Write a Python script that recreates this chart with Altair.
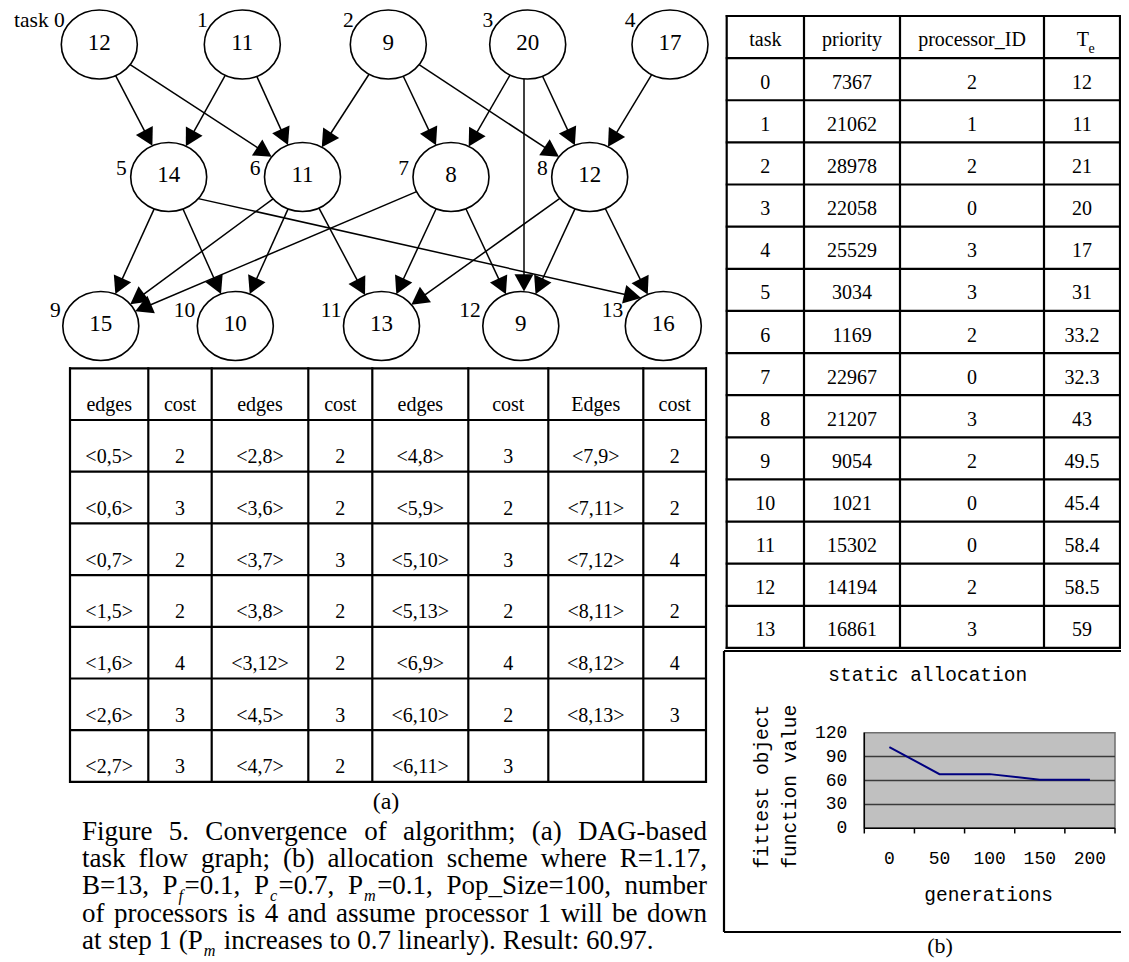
import math
import re
import altair as alt
import pandas as pd

# ============================ DATA ============================
# (a) DAG: task weights, levels and precedence edges
TASK_IDS = list(range(14))
TASK_WEIGHTS = [12, 11, 9, 20, 17, 14, 11, 8, 12, 15, 10, 13, 9, 16]
TASK_LEVEL = [0, 0, 0, 0, 0, 1, 1, 1, 1, 2, 2, 2, 2, 2]
TASK_NAMES = ["task 0"] + [str(i) for i in range(1, 14)]
DAG_SRC = [0, 0, 1, 1, 2, 2, 2, 3, 3, 3, 4, 5, 5, 5, 6, 6, 6, 7, 7, 7, 8, 8, 8]
DAG_DST = [5, 6, 5, 6, 6, 7, 8, 7, 8, 12, 8, 9, 10, 13, 9, 10, 11, 9, 11, 12, 11, 12, 13]

# (a) edge / cost table
EDGE_HEADERS = ["edges", "cost", "edges", "cost", "edges", "cost", "Edges", "cost"]
EDGES_A = ["<0,5>", "<0,6>", "<0,7>", "<1,5>", "<1,6>", "<2,6>", "<2,7>"]
COSTS_A = [2, 3, 2, 2, 4, 3, 3]
EDGES_B = ["<2,8>", "<3,6>", "<3,7>", "<3,8>", "<3,12>", "<4,5>", "<4,7>"]
COSTS_B = [2, 2, 3, 2, 2, 3, 2]
EDGES_C = ["<4,8>", "<5,9>", "<5,10>", "<5,13>", "<6,9>", "<6,10>", "<6,11>"]
COSTS_C = [3, 2, 3, 2, 4, 2, 3]
EDGES_D = ["<7,9>", "<7,11>", "<7,12>", "<8,11>", "<8,12>", "<8,13>"]
COSTS_D = [2, 2, 4, 2, 4, 3]

# (b) allocation table
ALLOC_HEADERS = ["task", "priority", "processor_ID", "T"]
ALLOC_TE_SUB = "e"
ALLOC_TASK = list(range(14))
ALLOC_PRIORITY = [7367, 21062, 28978, 22058, 25529, 3034, 1169, 22967, 21207, 9054, 1021, 15302, 14194, 16861]
ALLOC_PROC = [2, 1, 2, 0, 3, 3, 2, 0, 3, 2, 0, 0, 2, 3]
ALLOC_TE = ["12", "11", "21", "20", "17", "31", "33.2", "32.3", "43", "49.5", "45.4", "58.4", "58.5", "59"]

# (b) convergence chart
GENERATIONS = [0, 50, 100, 150, 200]
FITTEST = [102, 68, 68, 61, 61]
Y_TICKS = [0, 30, 60, 90, 120]
GRID_VALUES = [30, 60, 90]
X_CAT_BOUNDS = [-25, 25, 75, 125, 175, 225]
CHART_TITLE = "static allocation"
X_TITLE = "generations"
Y_TITLE = ["fittest object", "function value"]

PANEL_A = "(a)"
PANEL_B = "(b)"
CAPTION_LINES = [
    "Figure 5. Convergence of algorithm; (a) DAG-based",
    "task flow graph; (b) allocation scheme where R=1.17,",
    "B=13, P_{f}=0.1, P_{c}=0.7, P_{m}=0.1, Pop_Size=100, number",
    "of processors is 4 and assume processor 1 will be down",
    "at step 1 (P_{m} increases to 0.7 linearly). Result: 60.97.",
]

# ============================ LAYOUT ============================
OX, OY = 8, 8            # page margin: layout below is in page pixels
W, H = 1113, 954
SERIF = "Liberation Serif, Times New Roman, serif"
MONO = "Liberation Mono, Courier New, monospace"

RX, RY = 38.0, 34.5
LEVEL_Y = [44.5, 177.0, 326.0]
LEVEL_X = [[99.3, 242.3, 388.3, 527.7, 670.0],
           [168.7, 302.5, 451.0, 589.7],
           [100.8, 235.3, 381.5, 520.8, 663.3]]
LABEL_OFF = [(3.5, -17.5), (-4.0, -2.0), (-2.0, -9.5)]   # (dx from left edge, dy baseline)
# spline-like port shifts (tail aim, head aim) for edges Graphviz routed off-centre
EDGE_AIM = {(3, 12): ((-3.7, 0.0), (3.2, 0.0)), (5, 13): ((0.0, 15.0), (0.0, -23.0))}

ECOLS = [70, 148.3, 211.7, 308.3, 372.3, 468.3, 548.3, 643.3, 706]
EROW0, EROWH, EROWS = 368.3, 51.7, 8
ACOLS = [726.7, 804, 900, 1044, 1120]
AROW0, AROWH, AROWS = 16.0, 42.13, 15

BOX = (724, 651, 1140, 932)
PLOT = (864.3, 732.7, 1115.0, 828.3)   # left, top, right, bottom

CAP_LEFT, CAP_RIGHT = 82.0, 707.0
CAP_FS = 27.0
CAP_SUB = 0.6 * CAP_FS
CAP_DROP = 0.25 * CAP_FS
CAP_SUB_PRE, CAP_SUB_GAP = 1.0, 1.5
CAP_BASE0, CAP_LINEH = 839.5, 27.4

TIMES_R = {' ': 250, '(': 333, ')': 333, ',': 250, '-': 333, '.': 250, ':': 278, ';': 278,
           '=': 564, '_': 500, '<': 564, '>': 564,
           'A': 722, 'B': 667, 'C': 667, 'D': 722, 'F': 556, 'G': 722, 'P': 556, 'R': 667,
           'S': 556, 'T': 611,
           'a': 444, 'b': 500, 'c': 444, 'd': 500, 'e': 444, 'f': 333, 'g': 500, 'h': 500,
           'i': 278, 'j': 278, 'k': 500, 'l': 278, 'm': 778, 'n': 500, 'o': 500, 'p': 500,
           'q': 500, 'r': 333, 's': 389, 't': 278, 'u': 500, 'v': 500, 'w': 722, 'x': 500,
           'y': 500, 'z': 444}
TIMES_I = {'f': 278, 'c': 444, 'm': 722}


def pxs():
    return alt.Scale(domain=[OX, OX + W], range=[0, W], nice=False, zero=False)


def pys():
    return alt.Scale(domain=[OY, OY + H], range=[0, H], nice=False, zero=False)


SXS = dict(domain=[X_CAT_BOUNDS[0], X_CAT_BOUNDS[-1]], range=[PLOT[0] - OX, PLOT[2] - OX])
SYS = dict(domain=[0, 120], range=[PLOT[3] - OY, PLOT[1] - OY])


def sxs():
    return alt.Scale(nice=False, zero=False, **SXS)


def sys_():
    return alt.Scale(nice=False, zero=False, **SYS)


def enc(small=False, with2=False):
    xs, ys = (sxs(), sys_()) if small else (pxs(), pys())
    e = dict(x=alt.X("x:Q", scale=xs, axis=None), y=alt.Y("y:Q", scale=ys, axis=None))
    if with2:
        e["x2"] = alt.X2(field="x2")
        e["y2"] = alt.Y2(field="y2")
    return e


def text_layer(rows, size, font=SERIF, align="center", baseline="alphabetic",
               small=False, **kw):
    mk = dict(font=font, fontSize=size, align=align, baseline=baseline, color="black")
    mk.update(kw)
    return alt.Chart(pd.DataFrame(rows)).mark_text(**mk).encode(text="text:N", **enc(small))


layers = []

# ---------------- DAG ----------------
node_x, node_y = {}, {}
for lvl, xs in enumerate(LEVEL_X):
    ids = [t for t in TASK_IDS if TASK_LEVEL[t] == lvl]
    for t, xv in zip(ids, xs):
        node_x[t], node_y[t] = xv, LEVEL_Y[lvl]


def ellipse_roots(px, py, ux, uy, cx, cy):
    dx, dy = px - cx, py - cy
    A = (ux / RX) ** 2 + (uy / RY) ** 2
    B = 2 * (dx * ux / RX ** 2 + dy * uy / RY ** 2)
    C = (dx / RX) ** 2 + (dy / RY) ** 2 - 1
    disc = math.sqrt(max(B * B - 4 * A * C, 0.0))
    return (-B - disc) / (2 * A), (-B + disc) / (2 * A)


edge_rows, arrow_rows = [], []
for s, d in zip(DAG_SRC, DAG_DST):
    (tdx, tdy), (hdx, hdy) = EDGE_AIM.get((s, d), ((0.0, 0.0), (0.0, 0.0)))
    x1, y1 = node_x[s] + tdx, node_y[s] + tdy
    x2, y2 = node_x[d] + hdx, node_y[d] + hdy
    L = math.hypot(x2 - x1, y2 - y1)
    ux, uy = (x2 - x1) / L, (y2 - y1) / L
    s_out = ellipse_roots(x1, y1, ux, uy, node_x[s], node_y[s])[1]
    s_in = ellipse_roots(x1, y1, ux, uy, node_x[d], node_y[d])[0]
    sx, sy = x1 + ux * s_out, y1 + uy * s_out
    tx, ty = x1 + ux * s_in, y1 + uy * s_in
    edge_rows.append(dict(x=sx, y=sy, x2=tx - ux * 6, y2=ty - uy * 6))
    ang = math.degrees(math.atan2(ux, -uy)) % 360
    arrow_rows.append(dict(x=tx, y=ty, ang=ang))

layers.append(alt.Chart(pd.DataFrame(edge_rows)).mark_rule(color="black", strokeWidth=1.5)
              .encode(**enc(with2=True)))

K = 0.5523
a, b = RX / 10, RY / 10
ELLIPSE = (f"M{a},0C{a},{b*K},{a*K},{b},0,{b}C{-a*K},{b},{-a},{b*K},{-a},0"
           f"C{-a},{-b*K},{-a*K},{-b},0,{-b}C{a*K},{-b},{a},{-b*K},{a},0Z")
node_rows = [dict(x=node_x[t], y=node_y[t]) for t in TASK_IDS]
layers.append(alt.Chart(pd.DataFrame(node_rows)).mark_point(
    shape=ELLIPSE, size=400, filled=True, fill="white", stroke="black",
    strokeWidth=1.6, opacity=1).encode(**enc()))

layers.append(alt.Chart(pd.DataFrame(arrow_rows)).mark_point(
    shape="M0,0L1.1,2L-1.1,2Z", size=300, filled=True, color="black", opacity=1,
    strokeWidth=0).encode(angle=alt.Angle("ang:Q", scale=None), **enc()))

layers.append(text_layer([dict(x=node_x[t], y=node_y[t] + 5.3, text=str(TASK_WEIGHTS[t]))
                          for t in TASK_IDS], 23))
lab_rows = []
for t in TASK_IDS:
    dx, dy = LABEL_OFF[TASK_LEVEL[t]]
    lab_rows.append(dict(x=node_x[t] - RX + dx, y=node_y[t] + dy, text=TASK_NAMES[t]))
layers.append(text_layer(lab_rows, 21.5, align="right"))

# ---------------- tables: lines ----------------
rule_rows = []
eys = [EROW0 + EROWH * k for k in range(EROWS + 1)]
for yv in eys:
    rule_rows.append(dict(x=ECOLS[0] - 1, x2=ECOLS[-1] + 1, y=yv, y2=yv))
for xv in ECOLS:
    rule_rows.append(dict(x=xv, x2=xv, y=eys[0] - 1, y2=eys[-1] + 1))
ays = [AROW0 + AROWH * k for k in range(AROWS + 1)]
for yv in ays:
    rule_rows.append(dict(x=ACOLS[0] - 1, x2=ACOLS[-1] + 1, y=yv, y2=yv))
for xv in ACOLS:
    rule_rows.append(dict(x=xv, x2=xv, y=ays[0] - 1, y2=ays[-1] + 1))
bl, bt, br, bb = BOX
rule_rows += [dict(x=bl, x2=br, y=bt, y2=bt), dict(x=bl, x2=br, y=bb, y2=bb),
              dict(x=bl, x2=bl, y=bt, y2=bb)]
layers.append(alt.Chart(pd.DataFrame(rule_rows)).mark_rule(color="black", strokeWidth=2.2)
              .encode(**enc(with2=True)))

# ---------------- edge table text ----------------
ecent = [(ECOLS[j] + ECOLS[j + 1]) / 2 for j in range(8)]
etext = [dict(x=ecent[j], y=eys[1] - 9, text=EDGE_HEADERS[j]) for j in range(8)]
for g, (ed, co) in enumerate([(EDGES_A, COSTS_A), (EDGES_B, COSTS_B),
                              (EDGES_C, COSTS_C), (EDGES_D, COSTS_D)]):
    for i, (e_, c_) in enumerate(zip(ed, co)):
        yb = eys[i + 2] - 8.5
        etext.append(dict(x=ecent[2 * g], y=yb, text=e_))
        etext.append(dict(x=ecent[2 * g + 1], y=yb, text=str(c_)))
layers.append(text_layer(etext, 20))

# ---------------- allocation table text ----------------
acent = [(ACOLS[j] + ACOLS[j + 1]) / 2 for j in range(4)]
atext = [dict(x=acent[j], y=ays[1] - 12, text=ALLOC_HEADERS[j]) for j in range(3)]
for i in range(len(ALLOC_TASK)):
    yb = ays[i + 2] - 11.5
    atext += [dict(x=acent[0], y=yb, text=str(ALLOC_TASK[i])),
              dict(x=acent[1], y=yb, text=str(ALLOC_PRIORITY[i])),
              dict(x=acent[2], y=yb, text=str(ALLOC_PROC[i])),
              dict(x=acent[3], y=yb, text=ALLOC_TE[i])]
layers.append(text_layer(atext, 20))
layers.append(text_layer([dict(x=acent[3] + 7, y=ays[1] - 12, text=ALLOC_HEADERS[3])], 20,
                         align="right"))
layers.append(text_layer([dict(x=acent[3] + 6.5, y=ays[1] - 5, text=ALLOC_TE_SUB)], 14,
                         align="left"))

# ---------------- panel labels & caption ----------------
layers.append(text_layer([dict(x=386, y=809, text=PANEL_A)], 24))
layers.append(text_layer([dict(x=940, y=953, text=PANEL_B)], 22))


def parse_word(w):
    segs, pos = [], 0
    for m in re.finditer(r"_\{(.*?)\}", w):
        if m.start() > pos:
            segs.append((w[pos:m.start()], False))
        segs.append((m.group(1), True))
        pos = m.end()
    if pos < len(w):
        segs.append((w[pos:], False))
    return segs


def seg_w(txt, sub):
    if sub:
        return (CAP_SUB_PRE + sum(TIMES_I.get(c, 500) for c in txt) / 1000 * CAP_SUB
                + CAP_SUB_GAP)
    return sum(TIMES_R.get(c, 500) for c in txt) / 1000 * CAP_FS


reg_rows, sub_rows = [], []
for li, line in enumerate(CAPTION_LINES):
    words = [parse_word(w) for w in line.split(" ")]
    widths = [sum(seg_w(t_, s_) for t_, s_ in w) for w in words]
    if li < len(CAPTION_LINES) - 1:
        gap = (CAP_RIGHT - CAP_LEFT - sum(widths)) / (len(words) - 1)
    else:
        gap = 0.25 * CAP_FS
    base = CAP_BASE0 + CAP_LINEH * li
    cx = CAP_LEFT
    for w, wd in zip(words, widths):
        px = cx
        for t_, s_ in w:
            if s_:
                sub_rows.append(dict(x=px + CAP_SUB_PRE, y=base + CAP_DROP, text=t_))
            else:
                reg_rows.append(dict(x=px, y=base, text=t_))
            px += seg_w(t_, s_)
        cx += wd + gap
layers.append(text_layer(reg_rows, CAP_FS, align="left"))
layers.append(text_layer(sub_rows, CAP_SUB, align="left", fontStyle="italic"))

# ---------------- (b) convergence chart ----------------
bg = pd.DataFrame([dict(x=X_CAT_BOUNDS[0], x2=X_CAT_BOUNDS[-1], y=0, y2=120)])
layers.append(alt.Chart(bg).mark_rect(fill="#c0c0c0", stroke="#6e6e6e", strokeWidth=1.5)
              .encode(**enc(small=True, with2=True)))
grid = pd.DataFrame([dict(x=X_CAT_BOUNDS[0], x2=X_CAT_BOUNDS[-1], y=v, y2=v) for v in GRID_VALUES])
layers.append(alt.Chart(grid).mark_rule(color="#3a3a3a", strokeWidth=1.5)
              .encode(**enc(small=True, with2=True)))
axis_rows = [dict(x=X_CAT_BOUNDS[0], x2=X_CAT_BOUNDS[-1], y=0, y2=0),
             dict(x=X_CAT_BOUNDS[0], x2=X_CAT_BOUNDS[0], y=0, y2=120)]
axis_rows += [dict(x=v, x2=v, y=0, y2=-6.5) for v in X_CAT_BOUNDS]
layers.append(alt.Chart(pd.DataFrame(axis_rows)).mark_rule(color="black", strokeWidth=1.5)
              .encode(**enc(small=True, with2=True)))
layers.append(alt.Chart(pd.DataFrame(dict(x=GENERATIONS, y=FITTEST)))
              .mark_line(color="#000080", strokeWidth=2).encode(**enc(small=True)))
layers.append(text_layer([dict(x=X_CAT_BOUNDS[0], y=v, text=str(v)) for v in Y_TICKS], 18,
                         font=MONO, align="right", baseline="middle", small=True, dx=-17))
layers.append(text_layer([dict(x=g, y=0, text=str(g)) for g in GENERATIONS], 18,
                         font=MONO, baseline="middle", small=True, dy=31))
layers.append(text_layer([dict(x=927.7, y=675, text=CHART_TITLE),
                          dict(x=988.7, y=895, text=X_TITLE)], 19.5, font=MONO,
                         baseline="middle"))
layers.append(text_layer([dict(x=761.7, y=786.7, text=Y_TITLE[0]),
                          dict(x=790.0, y=786.7, text=Y_TITLE[1])], 19.5, font=MONO,
                         baseline="middle", angle=270))

chart = (alt.layer(*layers)
         .resolve_scale(x="independent", y="independent")
         .properties(width=W, height=H, padding=0,
                     autosize=alt.AutoSizeParams(type="none"), background="white")
         .configure_view(strokeWidth=0))

chart.save("out.html", embed_options={"renderer": "svg", "actions": False})
